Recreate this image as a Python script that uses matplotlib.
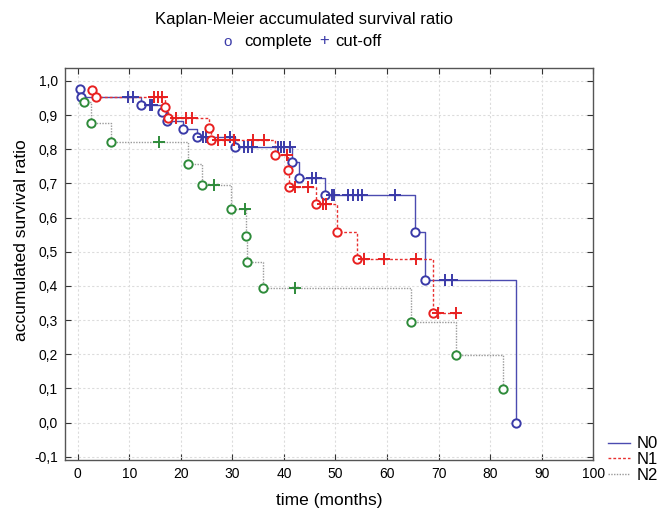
import numpy as np
import matplotlib
matplotlib.use("Agg")
import matplotlib.pyplot as plt
from matplotlib.lines import Line2D

plt.rcParams['font.family'] = ['Liberation Sans', 'DejaVu Sans']

# events (time, survival after event) and censored times for each group
n0_event_t = [0.4, 0.7, 12.3, 16.4, 17.3, 20.5, 23.2, 30.6, 41.6, 43.0, 47.9, 65.4, 67.4, 85.1]
n0_event_s = [0.976, 0.954, 0.931, 0.908, 0.883, 0.859, 0.836, 0.808, 0.764, 0.717, 0.667, 0.557, 0.417, 0.0]
n0_cens_t = [9.7, 10.7, 14.0, 14.4, 24.3, 24.9, 29.6, 32.2, 33.0, 33.9, 38.8, 39.5, 40.1, 41.1,
             45.5, 46.3, 49.4, 49.8, 52.4, 53.5, 54.3, 55.2, 61.6, 71.3, 72.6]

n1_event_t = [2.8, 3.6, 16.9, 17.5, 25.5, 25.8, 38.3, 40.8, 40.9, 46.3, 50.4, 54.1, 69.0]
n1_event_s = [0.974, 0.952, 0.923, 0.892, 0.861, 0.826, 0.784, 0.738, 0.691, 0.640, 0.558, 0.479, 0.322]
n1_cens_t = [14.9, 15.5, 16.3, 19.1, 21.0, 22.2, 27.2, 28.6, 30.4, 34.1, 36.2, 40.6,
             42.2, 44.6, 47.5, 48.1, 55.6, 59.4, 65.6, 69.8, 73.4]

n2_event_t = [1.2, 2.5, 6.5, 21.4, 24.1, 29.8, 32.7, 32.8, 35.9, 64.7, 73.4, 82.6]
n2_event_s = [0.938, 0.878, 0.820, 0.757, 0.696, 0.626, 0.547, 0.469, 0.393, 0.295, 0.197, 0.099]
n2_cens_t = [15.7, 26.4, 32.4, 42.2]

groups = [
    ("N0", n0_event_t, n0_event_s, n0_cens_t, "#4b4bb0", "#3a3aa8", "-"),
    ("N1", n1_event_t, n1_event_s, n1_cens_t, "#e83030", "#e82020", (0, (2, 1.5))),
    ("N2", n2_event_t, n2_event_s, n2_cens_t, "#9a9a9a", "#2e8b3a", (0, (1, 1))),
]


def step_xy(ev_t, ev_s, cens_t):
    # staircase through the events, ending at the last observation
    xs = [ev_t[0]]
    ys = [ev_s[0]]
    for t, s in zip(ev_t[1:], ev_s[1:]):
        xs += [t, t]
        ys += [ys[-1], s]
    end = max(ev_t + cens_t)
    if end > xs[-1]:
        xs.append(end)
        ys.append(ys[-1])
    return np.array(xs), np.array(ys)


def surv_at(ev_t, ev_s, t):
    s = ev_s[0]
    for et, es in zip(ev_t, ev_s):
        if et <= t:
            s = es
    return s


fig = plt.figure(figsize=(6.68, 5.11), dpi=100)
ax = fig.add_axes([0.097, 0.100, 0.791, 0.767])

for name, et, es, ct, lc, mc, ls in groups:
    xs, ys = step_xy(et, es, ct)
    ax.plot(xs, ys, color=lc, linestyle=ls, linewidth=1.0, zorder=2)
    ax.plot(et, es, linestyle='none', marker='o', markersize=6, markerfacecolor='white',
            markeredgecolor=mc, markeredgewidth=1.4, zorder=3)
    cs = [surv_at(et, es, t) for t in ct]
    ax.plot(ct, cs, linestyle='none', marker='+', markersize=8, markeredgecolor=mc,
            markeredgewidth=1.4, zorder=3)

ax.set_xlim(-2.5, 100)
ax.set_ylim(-0.109, 1.038)
ax.set_xticks(np.arange(0, 101, 10))
yt = np.round(np.arange(-0.1, 1.01, 0.1), 1)
ax.set_yticks(yt)
ax.set_yticklabels([("%.1f" % v).replace(".", ",") for v in yt])
ax.tick_params(direction='in', length=4, top=True, right=True, labelsize=10, colors='#333333',
               labelcolor='black', pad=5)
ax.grid(True, color='#dcdcdc', linestyle=(0, (2, 2)), linewidth=0.8)
ax.set_axisbelow(True)
for sp in ax.spines.values():
    sp.set_color('#555555')
    sp.set_linewidth(1.0)

ax.set_xlabel("time (months)", fontsize=12.5, labelpad=9)
ax.set_ylabel("accumulated survival ratio", fontsize=12.5)
ax.yaxis.set_label_coords(-0.068, 0.56)

fig.text(0.455, 0.962, "Kaplan-Meier accumulated survival ratio", ha='center', va='center', fontsize=12)
fig.text(0.341, 0.918, "o", ha='center', va='center', fontsize=11, color='#3a3aa8')
fig.text(0.365, 0.918, "complete", ha='left', va='center', fontsize=12)
fig.text(0.485, 0.920, "+", ha='center', va='center', fontsize=12, color='#3a3aa8')
fig.text(0.502, 0.918, "cut-off", ha='left', va='center', fontsize=12)

handles = [Line2D([0], [0], color=g[4], linestyle=g[6], linewidth=1.0) for g in groups]
fig.legend(handles, [g[0] for g in groups], loc='lower left', bbox_to_anchor=(0.895, 0.035),
           frameon=False, fontsize=12, handlelength=1.35, labelspacing=0.05, handletextpad=0.35,
           borderpad=0.1)

fig.savefig("out.png", dpi=100)
